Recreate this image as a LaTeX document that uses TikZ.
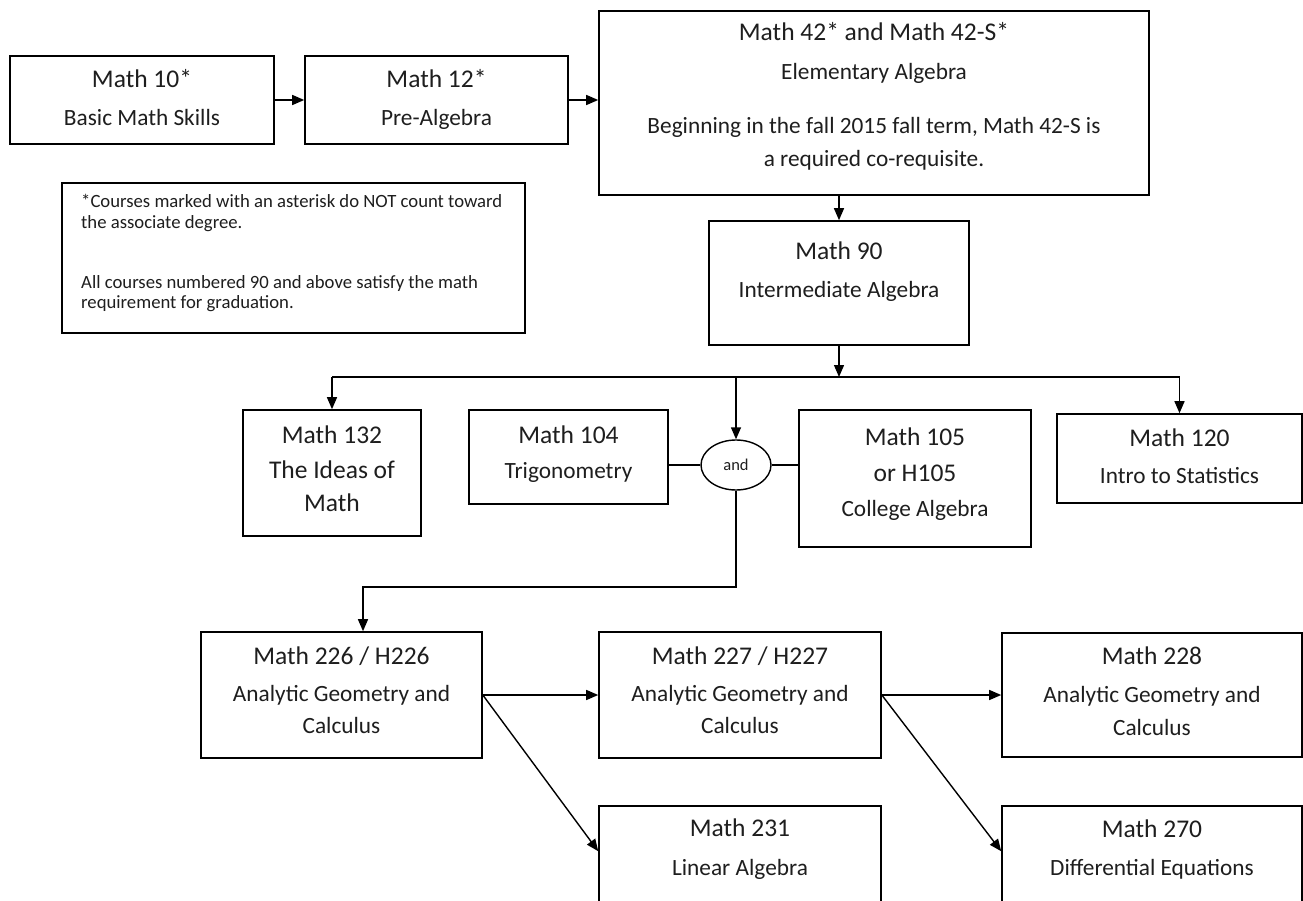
\documentclass[tikz,border=0pt]{standalone}
\usepackage{fontspec}
\setmainfont{Carlito}
\usetikzlibrary{arrows.meta,shapes.geometric,calc}
\definecolor{txt}{HTML}{1E1E1E}
\begin{document}
\begin{tikzpicture}[x=1pt,y=-1pt,
  cbox/.style={draw, line width=1.6pt, inner sep=0pt},
  arr/.style={line width=1.4pt, -{Triangle[length=12pt,width=10pt]}},
  ln/.style={line width=1.4pt},
  ttl/.style={anchor=base, inner sep=0pt, font=\fontsize{25.5}{30}\selectfont, text=txt},
  subt/.style={anchor=base, inner sep=0pt, font=\fontsize{23.3}{28}\selectfont, text=txt},
  notetext/.style={anchor=base west, inner sep=0pt, font=\fontsize{18.7}{22}\selectfont, text=txt},
]
\clip (0,0) rectangle (1303,901);
\fill[white] (0,0) rectangle (1303,901);

% boxes
\node[cbox, minimum width=264pt, minimum height=88pt] (m10) at (142,100) {};
\node[cbox, minimum width=263pt, minimum height=88pt] (m12) at (436.5,100) {};
\node[cbox, minimum width=550pt, minimum height=184pt] (m42) at (874,103) {};
\node[cbox, minimum width=463pt, minimum height=150pt] (note) at (293.5,258) {};
\node[cbox, minimum width=260pt, minimum height=124pt] (m90) at (839,283) {};
\node[cbox, minimum width=178pt, minimum height=126pt] (m132) at (332,473) {};
\node[cbox, minimum width=199pt, minimum height=94pt] (m104) at (568.5,457) {};
\node[draw, ellipse, line width=1.4pt, minimum width=70pt, minimum height=50pt, inner sep=0pt,
      font=\fontsize{16.5}{18}\selectfont, text=txt] (andnode) at (736,465) {and};
\node[cbox, minimum width=232pt, minimum height=137pt] (m105) at (915,478.5) {};
\node[cbox, minimum width=245pt, minimum height=89pt] (m120) at (1179.5,458.5) {};
\node[cbox, minimum width=281pt, minimum height=126pt] (m226) at (341.5,695) {};
\node[cbox, minimum width=282pt, minimum height=126pt] (m227) at (740,695) {};
\node[cbox, minimum width=300pt, minimum height=124pt] (m228) at (1152,695) {};
\node[cbox, minimum width=282pt, minimum height=120pt] (m231) at (740,866) {};
\node[cbox, minimum width=300pt, minimum height=120pt] (m270) at (1152,866) {};

% texts
\node[ttl] (t10a) at (142,88) {Math 10*};
\node[subt] (t10b) at (142,126) {Basic Math Skills};
\node[ttl] (t12a) at (436.5,88) {Math 12*};
\node[subt] (t12b) at (436.5,126) {Pre-Algebra};
\node[ttl] (t42a) at (874,41) {Math 42* and Math 42-S*};
\node[subt] (t42b) at (874,80) {Elementary Algebra};
\node[subt] (t42c) at (874,134) {Beginning in the fall 2015 fall term, Math 42-S is};
\node[subt] (t42d) at (874,167) {a required co-requisite.};
\node[notetext] (n1) at (81,208) {*Courses marked with an asterisk do NOT count toward};
\node[notetext] (n2) at (81,229) {the associate degree.};
\node[notetext] (n3) at (81,288) {All courses numbered 90 and above satisfy the math};
\node[notetext] (n4) at (81,308) {requirement for graduation.};
\node[ttl] (t90a) at (839,260) {Math 90};
\node[subt] (t90b) at (839,298) {Intermediate Algebra};
\node[ttl] (t132a) at (332,443) {Math 132};
\node[ttl] (t132b) at (332,478) {The Ideas of};
\node[ttl] (t132c) at (332,511) {Math};
\node[ttl] (t104a) at (568.5,443) {Math 104};
\node[subt] (t104b) at (568.5,478) {Trigonometry};
\node[ttl] (t105a) at (915,445) {Math 105};
\node[ttl] (t105b) at (915,481) {or H105};
\node[subt] (t105c) at (915,516) {College Algebra};
\node[ttl] (t120a) at (1179.5,446) {Math 120};
\node[subt] (t120b) at (1179.5,483) {Intro to Statistics};
\node[ttl] (t226a) at (341.5,664) {Math 226 / H226};
\node[subt] (t226b) at (341.5,701) {Analytic Geometry and};
\node[subt] (t226c) at (341.5,733) {Calculus};
\node[ttl] (t227a) at (740,664) {Math 227 / H227};
\node[subt] (t227b) at (740,701) {Analytic Geometry and};
\node[subt] (t227c) at (740,733) {Calculus};
\node[ttl] (t228a) at (1152,664) {Math 228};
\node[subt] (t228b) at (1152,702) {Analytic Geometry and};
\node[subt] (t228c) at (1152,735) {Calculus};
\node[ttl] (t231a) at (740,836) {Math 231};
\node[subt] (t231b) at (740,875) {Linear Algebra};
\node[ttl] (t270a) at (1152,837) {Math 270};
\node[subt] (t270b) at (1152,875) {Differential Equations};

% connectors
\coordinate (bus) at (839,377);
\coordinate (busL) at (332,377);
\coordinate (busR) at (1179.5,377);
\coordinate (turn) at (736,587);
\coordinate (drop) at (363,587);

\draw[arr] (m10.east) -- (m12.west);
\draw[arr] (m12.east) -- (m12.east -| m42.west);
\draw[arr] (m42.south -| m90.north) -- (m90.north);
\draw[arr] (m90.south) -- (bus);
\draw[ln] (busL) -- (busR);
\draw[arr] (busL) -- (m132.north);
\draw[arr] (busL -| andnode.north) -- (andnode.north);
\draw[arr] (busR) -- (m120.north);
\draw[ln] (andnode.west -| m104.east) -- (andnode.west);
\draw[ln] (andnode.east) -- (andnode.east -| m105.west);
\draw[arr] (andnode.south) -- (turn) -- (drop) -- (drop |- m226.north);
\draw[arr] (m226.east) -- (m227.west);
\draw[arr] (m226.east) -- ($(m231.north west)+(0,46)$);
\draw[arr] (m227.east) -- (m228.west);
\draw[arr] (m227.east) -- ($(m270.north west)+(0,46)$);
\end{tikzpicture}
\end{document}
